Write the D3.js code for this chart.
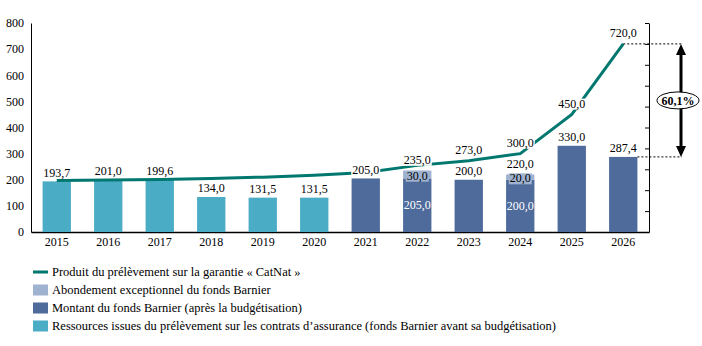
<!DOCTYPE html>
<html>
<meta charset="utf-8">
<head>
<title>Fonds Barnier et prélèvement CatNat</title>
<style>
body { margin: 0; background: #fff; }
svg { display: block; font-family: "Liberation Serif", "Times New Roman", serif; }
text { font-size: 12px; fill: #000; }
.legend text { font-size: 12.5px; }
</style>
<script src="https://d3js.org/d3.v7.min.js"></script>
</head>
<body>
<svg></svg>
<script>

var years = ["2015", "2016", "2017", "2018", "2019", "2020", "2021", "2022", "2023", "2024", "2025", "2026"];
// fonds Barnier avant budgétisation (prélèvement sur les contrats)
var ressources = [193.7, 201.0, 199.6, 134.0, 131.5, 131.5, null, null, null, null, null, null];
// fonds Barnier après budgétisation
var montant = [null, null, null, null, null, null, 205.0, 205.0, 200.0, 200.0, 330.0, 287.4];
var abondement = [null, null, null, null, null, null, null, 30.0, null, 20.0, null, null];
// produit du prélèvement CatNat
var catnat = [197, 199, 201, 205, 210, 217, 228, 255, 273.0, 300.0, 450.0, 720.0];
var catnatShown = ["2023", "2024", "2025", "2026"];
var yTicks = [0, 100, 200, 300, 400, 500, 600, 700, 800];

var legendItems = [
    {type: "line", color: "#00786f", text: "Produit du prélèvement sur la garantie « CatNat »"},
    {type: "box", color: "#9fb2d0", text: "Abondement exceptionnel du fonds Barnier"},
    {type: "box", color: "#4e6b9b", text: "Montant du fonds Barnier (après la budgétisation)"},
    {type: "box", color: "#4bacc6", text: "Ressources issues du prélèvement sur les contrats d’assurance (fonds Barnier avant sa budgétisation)"}
];

var width = 702, height = 346;
var svg = d3.select("svg").attr("width", width).attr("height", height);

var fr = d3.formatLocale({decimal: ",", thousands: " ", grouping: [3], currency: ["", " €"]});
var f1 = fr.format(".1f");

var x = d3.scaleBand().domain(years).range([31, 649]).paddingInner(0.45).paddingOuter(0.225);
var y = d3.scaleLinear().domain([0, 800]).range([232, 23]);

var colLine = "#00786f", colAbond = "#9fb2d0", colMontant = "#4e6b9b", colRess = "#4bacc6";

// axes
var yAxis = svg.append("g")
    .attr("transform", "translate(31,0)")
    .call(d3.axisLeft(y).tickValues(yTicks).tickSize(0).tickPadding(7))
    .attr("font-family", null).attr("font-size", null);
yAxis.select(".domain").attr("stroke", "#000");

var xAxis = svg.append("g")
    .attr("transform", "translate(0,232)")
    .call(d3.axisBottom(x).tickSize(0).tickPadding(5).tickSizeOuter(0))
    .attr("font-family", null).attr("font-size", null);
xAxis.select(".domain").attr("stroke", "#000").attr("stroke-width", 1.5);

var y2 = d3.scaleLinear().domain([0, 10]).range([232, 23]);
var rAxis = svg.append("g")
    .attr("transform", "translate(649,0)")
    .call(d3.axisLeft(y2).ticks(10).tickSize(4).tickSizeOuter(0).tickFormat(""));
rAxis.select(".domain").attr("stroke", "#000");

// bars
var rows = years.map((yr, i) => ({
    year: yr,
    base: ressources[i] != null ? ressources[i] : montant[i],
    color: ressources[i] != null ? colRess : colMontant,
    extra: abondement[i]
}));

svg.append("g").selectAll("rect")
    .data(rows)
    .join("rect")
    .attr("x", d => x(d.year))
    .attr("width", x.bandwidth())
    .attr("y", d => y(d.base))
    .attr("height", d => y(0) - y(d.base))
    .attr("fill", d => d.color);

svg.append("g").selectAll("rect")
    .data(rows.filter(d => d.extra != null))
    .join("rect")
    .attr("x", d => x(d.year))
    .attr("width", x.bandwidth())
    .attr("y", d => y(d.base + d.extra))
    .attr("height", d => y(d.base) - y(d.base + d.extra))
    .attr("fill", colAbond);

// CatNat line
var line = d3.line()
    .x((d, i) => x(years[i]) + x.bandwidth() / 2)
    .y(d => y(d));

svg.append("path")
    .datum(catnat)
    .attr("d", line)
    .attr("fill", "none")
    .attr("stroke", colLine)
    .attr("stroke-width", 3);

// labels with a background box
var labels = svg.append("g");
function label(cx, cy, txt, bg, fg) {
    var g = labels.append("g");
    var t = g.append("text")
        .attr("x", cx).attr("y", cy)
        .attr("text-anchor", "middle")
        .attr("dy", "0.35em")
        .style("fill", fg || "#000")
        .text(txt);
    if (bg) {
        var b = t.node().getBBox();
        g.insert("rect", "text")
            .attr("x", b.x - 1).attr("y", b.y + 2)
            .attr("width", b.width + 2).attr("height", b.height - 3)
            .attr("fill", bg);
    }
}

rows.forEach(d => {
    var cx = x(d.year) + x.bandwidth() / 2;
    var total = d.base + (d.extra || 0);
    label(cx, y(total) - (d.extra != null ? 11 : 9), f1(total), "#fff");
    if (d.extra != null) {
        label(cx, y(d.base + d.extra / 2) + 1, f1(d.extra), colAbond);
        label(cx, y(d.base / 2), f1(d.base), null, "#fff");
    }
});

years.forEach((yr, i) => {
    if (catnatShown.indexOf(yr) < 0) return;
    label(x(yr) + x.bandwidth() / 2, y(catnat[i]) - 11, f1(catnat[i]), "#fff");
});

// gap between the 2026 bar and the 2026 levy
var last = years.length - 1;
var xa = 681;
var topY = y(catnat[last]), botY = y(montant[last]);
svg.append("line")
    .attr("x1", x(years[last]) + x.bandwidth() / 2).attr("x2", xa + 1)
    .attr("y1", topY).attr("y2", topY)
    .attr("stroke", "#000").attr("stroke-dasharray", "2,2");
svg.append("line")
    .attr("x1", x(years[last]) + x.bandwidth()).attr("x2", xa + 1)
    .attr("y1", botY).attr("y2", botY)
    .attr("stroke", "#000").attr("stroke-dasharray", "2,2");

svg.append("line")
    .attr("x1", xa).attr("x2", xa)
    .attr("y1", topY + 8).attr("y2", botY - 8)
    .attr("stroke", "#000").attr("stroke-width", 3);
svg.append("path")
    .attr("d", `M${xa},${topY} L${xa - 5},${topY + 11} L${xa + 5},${topY + 11} Z`)
    .attr("fill", "#000");
svg.append("path")
    .attr("d", `M${xa},${botY} L${xa - 5},${botY - 11} L${xa + 5},${botY - 11} Z`)
    .attr("fill", "#000");

var pct = (catnat[last] - montant[last]) / catnat[last] * 100;
var midY = (topY + botY) / 2;
svg.append("ellipse")
    .attr("cx", 678).attr("cy", midY)
    .attr("rx", 21).attr("ry", 8.5)
    .attr("fill", "#fff").attr("stroke", "#000");
svg.append("text")
    .attr("x", 678).attr("y", midY)
    .attr("dy", "0.35em")
    .attr("text-anchor", "middle")
    .attr("font-weight", "bold")
    .text(f1(pct) + "%");

// legend
var lg = svg.append("g").attr("class", "legend").selectAll("g")
    .data(legendItems)
    .join("g")
    .attr("transform", (d, i) => `translate(33,${272 + i * 18})`);

lg.filter(d => d.type === "line").append("line")
    .attr("x1", 0).attr("x2", 15)
    .attr("stroke", d => d.color).attr("stroke-width", 3);
lg.filter(d => d.type === "box").append("rect")
    .attr("x", 0).attr("y", -5.5)
    .attr("width", 15).attr("height", 11)
    .attr("fill", d => d.color);
lg.append("text")
    .attr("x", 19)
    .attr("dy", "0.35em")
    .text(d => d.text);

</script>
</body>
</html>
